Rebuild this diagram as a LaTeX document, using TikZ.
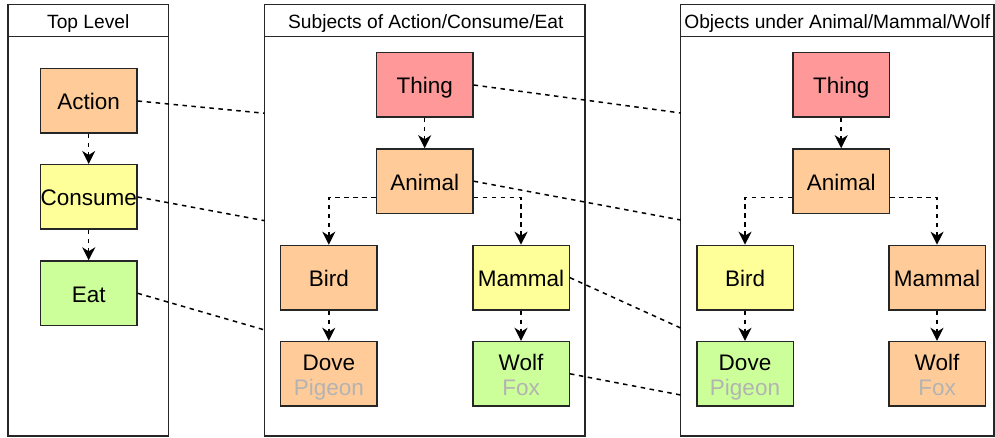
\documentclass[tikz,border=0pt]{standalone}
\usepackage{fontspec}
\setmainfont{Liberation Sans}
\usetikzlibrary{arrows.meta,calc}
\definecolor{cOrange}{HTML}{FFCC99}
\definecolor{cYellow}{HTML}{FFFF99}
\definecolor{cGreen}{HTML}{CCFF99}
\definecolor{cRed}{HTML}{FF9999}
\definecolor{cGray}{HTML}{B3B3B3}
\definecolor{cLine}{HTML}{262626}
\newcommand{\twoline}[2]{\rule{0pt}{22.4pt}#1\\\rule[-5pt]{0pt}{5pt}\textcolor{cGray}{#2}}
\tikzset{
  boxbase/.style={draw=cLine, line width=1.5pt, minimum width=96.5pt, minimum height=64.5pt,
    inner sep=0pt, align=center, font=\fontsize{22.5}{25}\selectfont},
  box/.style={boxbase, text height=18pt, text depth=0pt},
  orangebox/.style={box, fill=cOrange},
  yellowbox/.style={box, fill=cYellow},
  greenbox/.style={box, fill=cGreen},
  redbox/.style={box, fill=cRed},
  orangetwo/.style={boxbase, fill=cOrange},
  greentwo/.style={boxbase, fill=cGreen},
  panel/.style={draw=cLine, line width=1.5pt, fill=white},
  headtext/.style={font=\fontsize{19.2}{22}\selectfont, inner sep=0pt, anchor=base},
  link/.style={line width=1.5pt, dash pattern=on 4.5pt off 4.5pt, black},
  arr/.style={link, -{Stealth[length=13pt,width=13pt,inset=4pt]}},
}
\begin{document}
\begin{tikzpicture}[x=1pt,y=-1pt]
\useasboundingbox (0,0) rectangle (995,438);
% panels
\draw[panel] (8,4.7) rectangle (168.7,436);
\draw[cLine, line width=1.5pt] (8,36.7) -- (168.7,36.7);
\draw[panel] (264.7,4.7) rectangle (585,436);
\draw[cLine, line width=1.5pt] (264.7,36.7) -- (585,36.7);
\draw[panel] (680.7,4.7) rectangle (994,436);
\draw[cLine, line width=1.5pt] (680.7,36.7) -- (994,36.7);
\node[headtext] (h1) at (88.3,28.3) {Top Level};
\node[headtext] (h2) at (425.8,28.3) {Subjects of Action/Consume/Eat};
\node[headtext] (h3) at (837.3,28.3) {Objects under Animal/Mammal/Wolf};

% panel 1
\node[orangebox] (action) at (88.7,101) {Action};
\node[yellowbox] (consume) at (88.7,197) {Consume};
\node[greenbox] (eat) at (88.7,293.3) {Eat};
\draw[arr] (action) -- (consume);
\draw[arr] (consume) -- (eat);

% panel 2
\node[redbox] (thingA) at (424.7,85) {Thing};
\node[orangebox] (animalA) at (424.7,181.2) {Animal};
\node[orangebox] (birdA) at (328.8,277.7) {Bird};
\node[yellowbox] (mammalA) at (521,277.7) {Mammal};
\node[orangetwo] (doveA) at (328.8,373.8) {\twoline{Dove}{Pigeon}};
\node[greentwo] (wolfA) at (521,373.8) {\twoline{Wolf}{Fox}};
\draw[arr] (thingA) -- (animalA);
\draw[arr] ($(animalA.south west)!0.25!(animalA.north west)$) -| (birdA.north);
\draw[arr] ($(animalA.south east)!0.25!(animalA.north east)$) -| (mammalA.north);
\draw[arr] (birdA) -- (doveA);
\draw[arr] (mammalA) -- (wolfA);

% panel 3
\node[redbox] (thingB) at (841.2,85) {Thing};
\node[orangebox] (animalB) at (841.2,181.2) {Animal};
\node[yellowbox] (birdB) at (745,277.7) {Bird};
\node[orangebox] (mammalB) at (937,277.7) {Mammal};
\node[greentwo] (doveB) at (745,373.8) {\twoline{Dove}{Pigeon}};
\node[orangetwo] (wolfB) at (937,373.8) {\twoline{Wolf}{Fox}};
\draw[arr] (thingB) -- (animalB);
\draw[arr] ($(animalB.south west)!0.25!(animalB.north west)$) -| (birdB.north);
\draw[arr] ($(animalB.south east)!0.25!(animalB.north east)$) -| (mammalB.north);
\draw[arr] (birdB) -- (doveB);
\draw[arr] (mammalB) -- (wolfB);

% cross-panel links
\coordinate (e1) at (264.7,113.3);
\coordinate (e2) at (264.7,220.7);
\coordinate (e3) at (264.7,330);
\coordinate (f1) at (680.7,113);
\coordinate (f2) at (680.7,220);
\coordinate (f3) at (680.7,328);
\coordinate (f4) at (680.7,395);
\draw[link] (action.east) -- (e1);
\draw[link] (consume.east) -- (e2);
\draw[link] (eat.east) -- (e3);
\draw[link] (thingA.east) -- (f1);
\draw[link] (animalA.east) -- (f2);
\draw[link] (mammalA.east) -- (f3);
\draw[link] (wolfA.east) -- (f4);
\end{tikzpicture}
\end{document}
